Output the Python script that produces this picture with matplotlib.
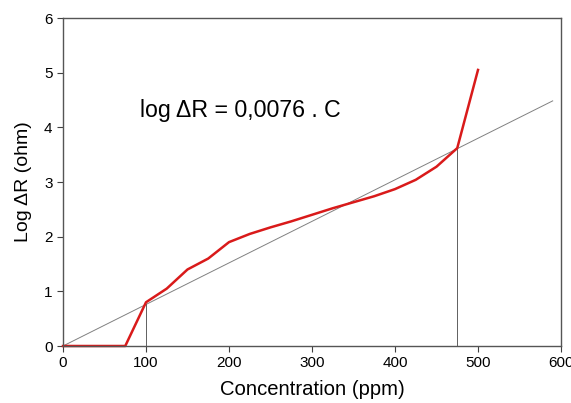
import numpy as np
import matplotlib
matplotlib.use("Agg")
import matplotlib.pyplot as plt

plt.rcParams['font.family'] = ['Liberation Sans', 'DejaVu Sans']

# measured response
conc = [0, 75, 100, 125, 150, 175, 200, 225, 250, 275, 300, 325, 350, 375, 400, 425, 450, 475, 500]
log_dr = [0, 0, 0.80, 1.05, 1.40, 1.60, 1.90, 2.05, 2.17, 2.28, 2.40, 2.52, 2.63, 2.74, 2.87, 3.04, 3.28, 3.62, 5.05]

# linear fit: log dR = 0.0076 * C
slope = 0.0076
fit_x = [0, 590]
# linear range limits
limits = [100, 475]

fig = plt.figure(figsize=(5.71, 4.03), dpi=100)
ax = fig.add_axes([63 / 571, 1 - 346 / 403, (561 - 63) / 571, (346 - 18) / 403])

ax.plot(fit_x, [slope * v for v in fit_x], color='#808080', lw=0.7)
for lx in limits:
    ax.plot([lx, lx], [0, slope * lx], color='#606060', lw=0.7)
ax.plot(conc, log_dr, color='#d91a1a', lw=1.8, clip_on=False)

ax.text(93, 4.3, 'log \u0394R = 0,0076 . C', fontsize=16.7, va='center', ha='left')

ax.set_xlim(0, 600)
ax.set_ylim(0, 6)
ax.set_xticks(np.arange(0, 601, 100))
ax.set_yticks(np.arange(0, 7, 1))
ax.tick_params(direction='out', length=4, labelsize=11, color='#404040', width=0.8)
for s in ax.spines.values():
    s.set_color('#555555')
    s.set_linewidth(1.0)

ax.set_xlabel('Concentration (ppm)', fontsize=14.6, labelpad=7)
ax.set_ylabel('Log \u0394R (ohm)', fontsize=14, labelpad=9)

fig.savefig('out.png', dpi=100)
